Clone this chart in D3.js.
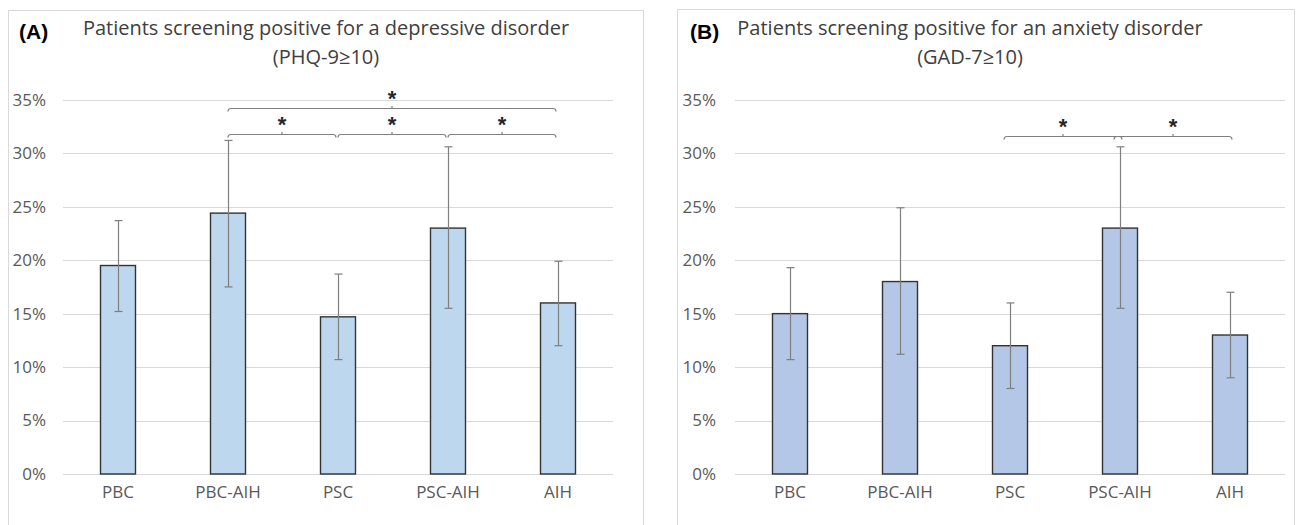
<!DOCTYPE html>
<html>
<head>
<meta charset="utf-8">
<script src="https://cdn.jsdelivr.net/npm/d3@7"></script>
<style>
  html, body { margin: 0; padding: 0; background: #ffffff; }
  svg { display: block; }
</style>
</head>
<body>
<svg id="chart" width="1296" height="525"></svg>
<script>
// ---------- data ----------
const categories = ["PBC", "PBC-AIH", "PSC", "PSC-AIH", "AIH"];
const yTicks = [0, 5, 10, 15, 20, 25, 30, 35];

// Panel A: PHQ-9 >= 10 (percent)
const depValues = [19.5, 24.4, 14.7, 23.0, 16.0];
const depLower  = [15.2, 17.5, 10.7, 15.5, 12.0];
const depUpper  = [23.7, 31.2, 18.7, 30.6, 19.9];
// significance pairs [from index, to index, bracket height in %]
const depSig = [[1, 4, 34.2], [1, 2, 31.8], [2, 3, 31.8], [3, 4, 31.8]];

// Panel B: GAD-7 >= 10 (percent)
const anxValues = [15.0, 18.0, 12.0, 23.0, 13.0];
const anxLower  = [10.7, 11.2, 8.0, 15.5, 9.0];
const anxUpper  = [19.3, 24.9, 16.0, 30.6, 17.0];
const anxSig = [[2, 3, 31.6], [3, 4, 31.6]];

const panelLabels = ["(A)", "(B)"];
const titlesA = ["Patients screening positive for a depressive disorder", "(PHQ-9\u226510)"];
const titlesB = ["Patients screening positive for an anxiety disorder", "(GAD-7\u226510)"];

// ---------- drawing ----------
const svg = d3.select("#chart");
const FONT = "'Open Sans', 'Noto Sans', sans-serif";

function drawPanel(cfg) {
  const g = svg.append("g");
  // frame
  g.append("rect")
    .attr("x", cfg.frame[0] + 0.5).attr("y", cfg.frame[1] + 0.5)
    .attr("width", cfg.frame[2]).attr("height", cfg.frame[3])
    .attr("fill", "#ffffff").attr("stroke", "#d9d9d9").attr("stroke-width", 1);

  const x = d3.scaleBand().domain(categories).range([cfg.x0, cfg.x1]).paddingInner(0).paddingOuter(0);
  const y = d3.scaleLinear().domain([0, 35]).range([474, 99.8]);

  // gridlines
  g.append("g").selectAll("line").data(yTicks).join("line")
    .attr("x1", cfg.x0).attr("x2", cfg.x1)
    .attr("y1", d => Math.round(y(d)) + 0.5).attr("y2", d => Math.round(y(d)) + 0.5)
    .attr("stroke", "#d9d9d9").attr("stroke-width", 1);

  // y axis labels
  const yAxis = d3.axisLeft(y).tickValues(yTicks).tickFormat(d => d + "%").tickSize(0).tickPadding(0);
  const ya = g.append("g").attr("transform", `translate(${cfg.labelRight},0)`).call(yAxis);
  ya.select(".domain").remove();
  ya.selectAll("text").attr("font-family", FONT).attr("font-size", 17).attr("fill", "#595959");

  // x axis labels
  const xAxis = d3.axisBottom(x).tickSize(0).tickPadding(0);
  const xa = g.append("g").attr("transform", `translate(0,486)`).call(xAxis);
  xa.select(".domain").remove();
  xa.selectAll("text").attr("font-family", FONT).attr("font-size", 17).attr("fill", "#595959");

  const bw = 35;
  const cx = i => x(categories[i]) + x.bandwidth() / 2;

  // bars
  g.append("g").selectAll("rect").data(cfg.values).join("rect")
    .attr("x", (d, i) => cx(i) - bw / 2)
    .attr("y", d => y(d))
    .attr("width", bw)
    .attr("height", d => y(0) - y(d))
    .attr("fill", cfg.fill).attr("stroke", "#333333").attr("stroke-width", 1.4);

  // error bars
  const eg = g.append("g").attr("stroke", "#7f7f7f").attr("stroke-width", 1.2).attr("fill", "none");
  cfg.values.forEach((v, i) => {
    const c = Math.round(cx(i)) + 0.5;
    eg.append("line").attr("x1", c).attr("x2", c).attr("y1", y(cfg.upper[i])).attr("y2", y(cfg.lower[i]));
    eg.append("line").attr("x1", c - 4).attr("x2", c + 4).attr("y1", y(cfg.upper[i])).attr("y2", y(cfg.upper[i]));
    eg.append("line").attr("x1", c - 4).attr("x2", c + 4).attr("y1", y(cfg.lower[i])).attr("y2", y(cfg.lower[i]));
  });

  // significance brackets
  const bg = g.append("g");
  cfg.sig.forEach(s => {
    const x1 = cx(s[0]) + cfg.brL, x2 = cx(s[1]) - cfg.brR;
    const yy = Math.round(y(s[2])) + 0.5;
    const xm = (x1 + x2) / 2;
    bg.append("path")
      .attr("d", `M${x1},${yy + 3} Q${x1},${yy} ${x1 + 3},${yy} L${x2 - 3},${yy} Q${x2},${yy} ${x2},${yy + 3} M${xm},${yy} L${xm},${yy - 2.5}`)
      .attr("fill", "none").attr("stroke", "#7f7f7f").attr("stroke-width", 1.2);
    bg.append("text").attr("x", xm).attr("y", yy - 3)
      .attr("text-anchor", "middle").attr("font-family", "'Liberation Sans', Arial, sans-serif")
      .attr("font-weight", "bold").attr("font-size", 22).attr("fill", "#262626")
      .text("*");
  });

  // panel label
  g.append("text").attr("x", cfg.labelX).attr("y", 39)
    .attr("font-family", "'Liberation Sans', Arial, sans-serif").attr("font-weight", "bold")
    .attr("font-size", 21).attr("fill", "#000000").text(cfg.panel);

  // title
  const tt = g.append("text").attr("text-anchor", "middle")
    .attr("font-family", FONT).attr("font-size", 20).attr("fill", "#404040");
  tt.append("tspan").attr("x", cfg.titleX).attr("y", 35).text(cfg.title[0]);
  tt.append("tspan").attr("x", cfg.titleX).attr("y", 64).text(cfg.title[1]);
}

drawPanel({
  frame: [8, 10, 635, 530], x0: 63, x1: 613, labelRight: 46,
  values: depValues, lower: depLower, upper: depUpper, sig: depSig,
  fill: "#BDD7EE", panel: panelLabels[0], labelX: 19, title: titlesA, titleX: 326,
  brL: 0, brR: 2
});
drawPanel({
  frame: [677, 9, 617, 530], x0: 735, x1: 1285, labelRight: 716,
  values: anxValues, lower: anxLower, upper: anxUpper, sig: anxSig,
  fill: "#B4C7E7", panel: panelLabels[1], labelX: 690, title: titlesB, titleX: 970,
  brL: -6, brR: -2
});
</script>
</body>
</html>
